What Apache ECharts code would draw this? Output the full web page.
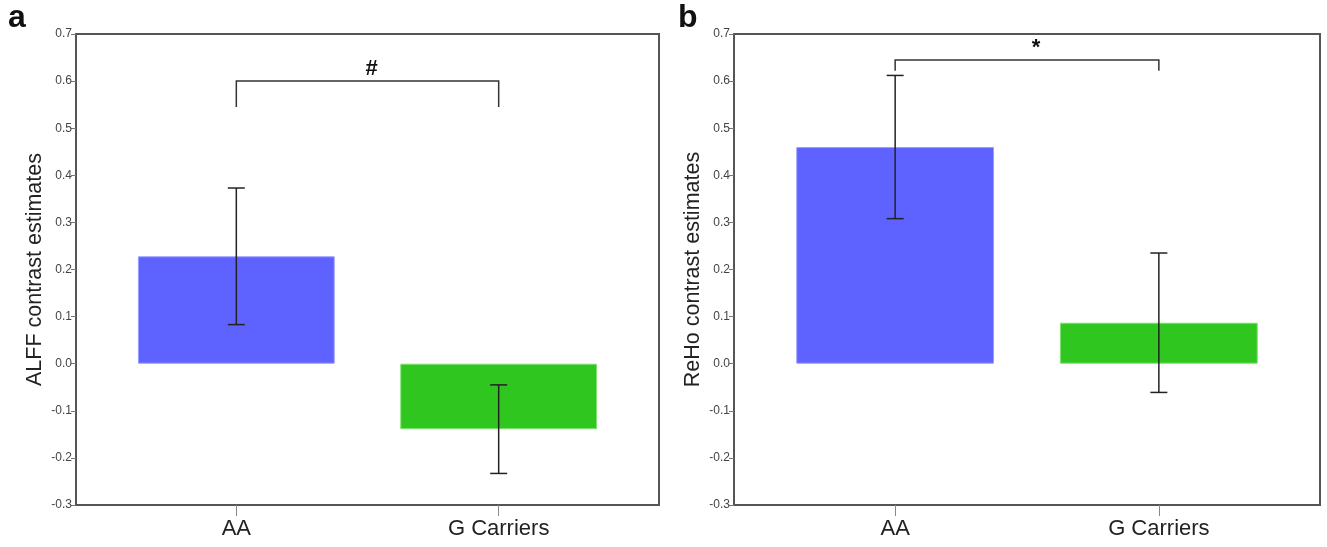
<!DOCTYPE html>
<html>
<head>
<meta charset="utf-8">
<script src="https://cdn.jsdelivr.net/npm/echarts@6/dist/echarts.min.js"></script>
<style>
  html, body { margin: 0; padding: 0; background: #fff; }
  #chart { width: 1327px; height: 547px; }
</style>
</head>
<body>
<div id="chart"></div>
<script>
// groups on the x axis
const groups = ['AA', 'G Carriers']
const barColors = ['#5e62ff', '#2fc71f']

// panel a: ALFF
const alffMean = [0.228, -0.139]
const alffErr = [0.145, 0.094]
const alffBracket = [0.545, 0.6]   // foot, top
const alffMark = '#'

// panel b: ReHo
const rehoMean = [0.460, 0.087]
const rehoErr = [0.152, 0.148]
const rehoBracket = [0.622, 0.645]
const rehoMark = '*'

const yMin = -0.3, yMax = 0.7, yStep = 0.1
const FONT = 'Liberation Sans, Arial, sans-serif'

// frame boxes and the (slightly inset) bar areas
const panels = [
    { frameLeft: 76, frameWidth: 583, name: 'ALFF contrast estimates', mean: alffMean, err: alffErr, bracket: alffBracket, mark: alffMark, markShift: 4 },
    { frameLeft: 734, frameWidth: 586, name: 'ReHo contrast estimates', mean: rehoMean, err: rehoErr, bracket: rehoBracket, mark: rehoMark, markShift: 9 }
]
const plotTop = 34, plotHeight = 471

let grid = [], xAxis = [], yAxis = [], series = []

panels.forEach((p, i) => {
    let inset = p.frameWidth * 0.05
    // frame grid (index 2*i) carries the y axis
    grid.push({ left: p.frameLeft, top: plotTop, width: p.frameWidth, height: plotHeight, show: true, borderColor: '#555', borderWidth: 2 })
    // bar grid (index 2*i+1)
    grid.push({ left: p.frameLeft + inset, top: plotTop, width: p.frameWidth - 2 * inset, height: plotHeight })

    xAxis.push({ gridIndex: 2 * i, type: 'value', show: false, min: 0, max: 1 })
    xAxis.push({
        gridIndex: 2 * i + 1,
        type: 'category',
        data: groups,
        position: 'bottom',
        axisLine: { show: false, onZero: false },
        axisTick: { show: true, alignWithLabel: true, length: 11, lineStyle: { color: '#888', width: 1 } },
        axisLabel: { fontSize: 22, color: '#222', margin: 13, fontFamily: FONT },
        splitLine: { show: false }
    })

    yAxis.push({
        gridIndex: 2 * i,
        type: 'value',
        min: yMin, max: yMax, interval: yStep,
        name: p.name,
        nameLocation: 'middle',
        nameGap: 30,
        nameTextStyle: { fontSize: 21.5, color: '#222', fontFamily: FONT },
        axisLine: { show: true, lineStyle: { color: '#555', width: 2 } },
        axisTick: { show: true, length: 5, lineStyle: { color: '#777' } },
        axisLabel: { fontSize: 12, color: '#444', margin: 4, fontFamily: FONT, formatter: v => v.toFixed(1) },
        splitLine: { show: false }
    })
    yAxis.push({ gridIndex: 2 * i + 1, type: 'value', min: yMin, max: yMax, interval: yStep, show: false })

    series.push({
        type: 'bar',
        xAxisIndex: 2 * i + 1,
        yAxisIndex: 2 * i + 1,
        barWidth: '75%',
        data: p.mean.map((v, k) => ({
            value: v,
            itemStyle: { color: barColors[k], borderColor: k === 0 ? '#9a9dff' : '#7ee070', borderWidth: 1 }
        }))
    })

    // error bars
    series.push({
        type: 'custom',
        xAxisIndex: 2 * i + 1,
        yAxisIndex: 2 * i + 1,
        z: 5,
        data: p.mean.map((v, k) => [k, v - p.err[k], v + p.err[k]]),
        encode: { x: 0, y: [1, 2] },
        renderItem: function (params, api) {
            let lo = api.coord([api.value(0), api.value(1)])
            let hi = api.coord([api.value(0), api.value(2)])
            let cap = 8.5
            let st = { stroke: '#222', lineWidth: 1.5 }
            return {
                type: 'group',
                children: [
                    { type: 'line', shape: { x1: lo[0], y1: lo[1], x2: hi[0], y2: hi[1] }, style: st },
                    { type: 'line', shape: { x1: lo[0] - cap, y1: lo[1], x2: lo[0] + cap, y2: lo[1] }, style: st },
                    { type: 'line', shape: { x1: hi[0] - cap, y1: hi[1], x2: hi[0] + cap, y2: hi[1] }, style: st }
                ]
            }
        }
    })

    // significance bracket
    series.push({
        type: 'custom',
        xAxisIndex: 2 * i + 1,
        yAxisIndex: 2 * i + 1,
        z: 5,
        data: [[0, 1, p.bracket[0], p.bracket[1]]],
        encode: { x: [0, 1], y: [2, 3] },
        renderItem: function (params, api) {
            let a0 = api.coord([api.value(0), api.value(2)])
            let a1 = api.coord([api.value(0), api.value(3)])
            let b1 = api.coord([api.value(1), api.value(3)])
            let b0 = api.coord([api.value(1), api.value(2)])
            return {
                type: 'group',
                children: [
                    { type: 'polyline', shape: { points: [a0, a1, b1, b0] }, style: { stroke: '#333', lineWidth: 1.5, fill: null } },
                    {
                        type: 'text',
                        x: (a1[0] + b1[0]) / 2 + p.markShift,
                        y: a1[1] - 12,
                        style: { text: p.mark, fill: '#111', font: 'bold 22px ' + FONT, align: 'center', verticalAlign: 'middle' }
                    }
                ]
            }
        }
    })
})

let option = {
    animation: false,
    backgroundColor: '#fff',
    grid: grid,
    xAxis: xAxis,
    yAxis: yAxis,
    series: series,
    graphic: [
        { type: 'text', left: 8, top: 2, style: { text: 'a', font: 'bold 32px ' + FONT, fill: '#111' } },
        { type: 'text', left: 678, top: 2, style: { text: 'b', font: 'bold 32px ' + FONT, fill: '#111' } }
    ]
}

let chart = echarts.init(document.getElementById('chart'))
chart.setOption(option)
</script>
</body>
</html>
